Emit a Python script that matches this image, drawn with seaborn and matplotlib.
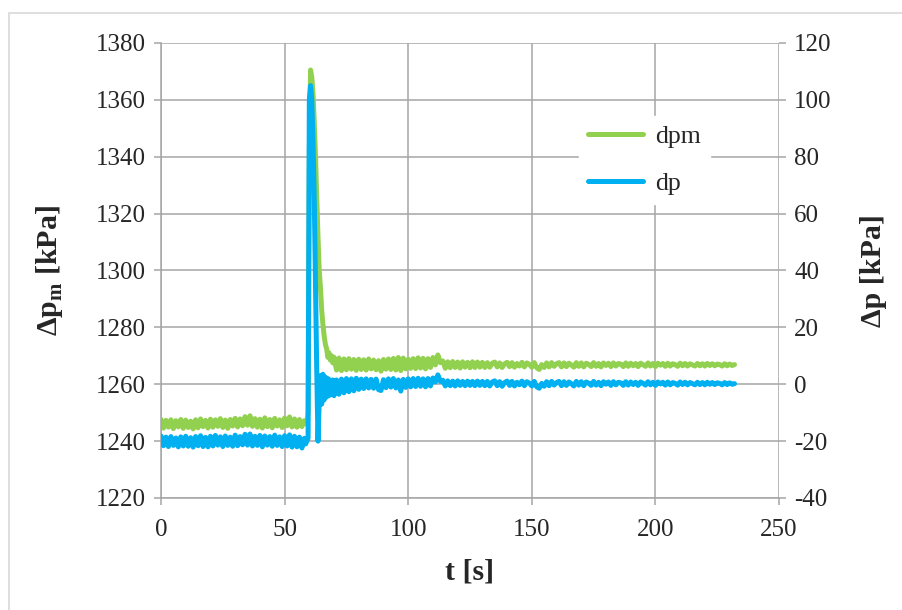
import numpy as np
import pandas as pd
import seaborn as sns
import matplotlib.pyplot as plt
from matplotlib.patches import Rectangle

# time grid of the samples [s]
t_pre = np.arange(0, 59, 1.0)          # before the pressure step
t_jump = np.arange(58.5, 70, 0.5)      # step and decay
t_post1 = np.arange(70, 132, 1.0)
t_post2 = np.arange(132, 233, 1.0)

# dpm, left axis [kPa]
dpm_pre = [1247.6, 1244.6, 1247.3, 1244.9, 1247.5, 1244.4, 1247.2, 1245.0, 1247.6, 1244.5,
           1247.4, 1244.8, 1247.0, 1244.3, 1247.5, 1244.7, 1247.8, 1245.1, 1247.3, 1244.6,
           1247.7, 1244.9, 1247.5, 1245.2, 1247.9, 1244.8, 1247.4, 1244.5, 1247.6, 1245.3,
           1248.0, 1245.0, 1247.8, 1245.4, 1248.6, 1245.6, 1248.9, 1245.2, 1247.9, 1244.9,
           1247.7, 1244.6, 1248.2, 1245.1, 1247.6, 1244.7, 1248.0, 1245.3, 1247.5, 1244.8,
           1248.1, 1245.4, 1248.5, 1245.0, 1247.8, 1244.9, 1247.6, 1245.1, 1247.2]
dpm_jump = [1246.5, 1246.0, 1250.0, 1340.0, 1370.5, 1368.0, 1362.0, 1352.0, 1340.0, 1326.0,
            1312.0, 1300.0, 1294.0, 1286.0, 1281.0, 1277.0, 1274.0, 1272.5, 1269.5, 1271.0,
            1268.5, 1270.0, 1267.5]
dpm_post1 = [1269.5, 1265.0, 1269.2, 1264.8, 1268.9, 1265.1, 1269.0, 1265.3, 1268.7, 1264.9,
             1268.8, 1265.2, 1268.6, 1265.0, 1268.9, 1265.4, 1268.5, 1265.1, 1268.3, 1264.6,
             1268.7, 1265.3, 1268.9, 1265.2, 1269.1, 1265.0, 1269.4, 1264.8, 1269.2, 1265.4,
             1268.8, 1265.6, 1269.0, 1265.5, 1269.3, 1265.7, 1269.1, 1265.4, 1269.0, 1265.9,
             1269.4, 1266.8, 1270.3, 1267.6, 1268.2, 1265.6, 1267.9, 1265.8, 1268.0, 1265.9,
             1267.8, 1265.7, 1267.9, 1266.0, 1267.7, 1265.8, 1267.9, 1265.9, 1267.8, 1266.0,
             1267.7, 1265.9]
dpm_post2 = [1267.6, 1266.0, 1267.4, 1267.8, 1266.1, 1267.5, 1265.9, 1267.2, 1267.7, 1266.2,
             1267.6, 1266.0, 1267.3, 1266.4, 1267.7, 1266.1, 1267.5, 1267.0, 1266.0, 1267.6,
             1265.8, 1265.2, 1266.9, 1265.9, 1267.5, 1266.1, 1267.6, 1266.3, 1267.2, 1267.6,
             1266.1, 1267.5, 1266.2, 1267.4, 1266.8, 1266.0, 1267.6, 1266.3, 1267.5, 1266.1,
             1267.4, 1267.0, 1266.2, 1267.6, 1266.3, 1267.3, 1266.1, 1267.5, 1266.6, 1267.4,
             1266.2, 1267.5, 1266.4, 1267.3, 1267.1, 1266.2, 1267.5, 1266.3, 1267.4, 1266.5,
             1267.3, 1266.2, 1267.4, 1266.9, 1266.3, 1267.5, 1266.4, 1267.3, 1266.2, 1267.4,
             1266.7, 1267.3, 1266.3, 1267.4, 1266.4, 1267.2, 1266.9, 1266.3, 1267.4, 1266.5,
             1267.3, 1266.4, 1267.2, 1266.8, 1266.4, 1267.3, 1266.5, 1267.2, 1266.4, 1267.3,
             1266.6, 1267.2, 1266.5, 1267.1, 1266.9, 1266.4, 1267.2, 1266.5, 1267.1, 1266.6,
             1266.9]

# dp, right axis [kPa]
dp_pre = [-18.2, -21.6, -18.6, -21.9, -18.4, -21.5, -18.9, -22.0, -18.5, -21.7,
          -18.3, -21.8, -18.8, -22.1, -18.4, -21.6, -18.1, -21.9, -18.7, -22.0,
          -18.3, -21.7, -18.0, -21.4, -18.5, -21.9, -18.2, -21.5, -18.6, -21.8,
          -17.9, -21.6, -18.4, -21.3, -17.6, -21.4, -17.5, -21.7, -18.3, -21.5,
          -18.0, -22.0, -18.2, -21.4, -18.4, -21.8, -17.9, -21.5, -18.5, -21.9,
          -18.1, -21.7, -17.8, -22.1, -18.3, -22.0, -18.6, -22.4, -19.0]
dp_jump = [-21.0, -20.0, -19.0, 100.0, 105.0, 100.0, 85.0, 65.0, 35.0, 5.0,
           -20.0, -6.0, 3.0, -7.0, 3.5, -5.5, 2.5, -4.5, 2.0, -4.0,
           1.5, -3.5, 1.5]
dp_post1 = [-4.0, 1.5, -3.5, 1.8, -3.0, 2.0, -2.6, 1.9, -2.3, 2.1,
            -1.8, 1.8, -1.5, 1.9, -1.3, 1.7, -1.4, 1.8, -1.9, -2.2,
            1.6, -1.2, 1.9, -1.0, 2.0, -1.3, 1.5, -2.4, 1.7, -1.1,
            1.9, -0.9, 2.0, -0.8, 2.1, -0.7, 1.9, -0.9, 2.0, -0.6,
            2.2, 0.8, 3.3, 1.0, 1.4, -0.6, 1.2, -0.5, 1.1, -0.6,
            1.2, -0.4, 1.0, -0.5, 1.1, -0.4, 1.0, -0.5, 1.1, -0.4,
            1.0, -0.5]
dp_post2 = [1.0, -0.6, 0.8, 1.2, -0.5, 0.9, -0.7, 0.6, 1.1, -0.4,
            1.0, -0.6, 0.7, -0.2, 1.1, -0.5, 0.9, 0.4, -0.6, 1.0,
            -0.9, -1.4, 0.3, -0.7, 0.9, -0.5, 1.0, -0.3, 0.6, 1.0,
            -0.5, 0.9, -0.4, 0.8, 0.2, -0.6, 1.0, -0.3, 0.9, -0.5,
            0.8, 0.4, -0.4, 1.0, -0.3, 0.7, -0.5, 0.9, 0.0, 0.8,
            -0.4, 0.9, -0.2, 0.7, 0.5, -0.4, 0.9, -0.3, 0.8, -0.1,
            0.7, -0.4, 0.8, 0.3, -0.3, 0.9, -0.2, 0.7, -0.4, 0.8,
            0.1, 0.7, -0.3, 0.8, -0.2, 0.6, 0.3, -0.3, 0.8, -0.1,
            0.7, -0.2, 0.6, 0.2, -0.2, 0.7, -0.1, 0.6, -0.2, 0.7,
            0.0, 0.6, -0.1, 0.5, 0.3, -0.2, 0.6, -0.1, 0.5, 0.0,
            0.2]

df = pd.DataFrame({
    't': np.concatenate([t_pre, t_jump, t_post1, t_post2]),
    'dpm': dpm_pre + dpm_jump + dpm_post1 + dpm_post2,
    'dp': dp_pre + dp_jump + dp_post1 + dp_post2,
})

sns.set_style('white')
plt.rcParams['font.family'] = ['Liberation Serif', 'DejaVu Serif']
plt.rcParams['mathtext.fontset'] = 'custom'
plt.rcParams['mathtext.rm'] = 'Liberation Serif'
plt.rcParams['mathtext.bf'] = 'Liberation Serif:bold'
plt.rcParams['axes.unicode_minus'] = False

green = '#92D050'
blue = '#00B0F0'
grid = '#a6a6a6'

fig = plt.figure(figsize=(9.02, 6.10), dpi=100)
ax = fig.add_axes([161 / 902, 1 - 498 / 610, 618 / 902, 455 / 610])
ax2 = ax.twinx()

sns.lineplot(data=df, x='t', y='dpm', ax=ax, color=green, lw=3.6,
             estimator=None, sort=False, label='dpm', legend=False,
             solid_capstyle='round', solid_joinstyle='round')
sns.lineplot(data=df, x='t', y='dp', ax=ax2, color=blue, lw=3.6,
             estimator=None, sort=False, label='dp', legend=False,
             solid_capstyle='round', solid_joinstyle='round')

ax.set_xlim(0, 250)
ax.set_ylim(1220, 1380)
ax2.set_ylim(-40, 120)
ax.set_xticks(range(0, 251, 50))
ax.set_yticks(range(1220, 1381, 20))
ax2.set_yticks(range(-40, 121, 20))

ax.grid(True, color=grid, lw=1.1)
ax.set_axisbelow(True)
for a in (ax, ax2):
    for s in a.spines.values():
        s.set_visible(False)
for side in ('left', 'bottom'):
    ax.spines[side].set_visible(True)
    ax.spines[side].set_color(grid)
    ax.spines[side].set_linewidth(1.1)

ax.tick_params(axis='x', labelsize=18, length=5, width=1.1, color=grid,
               direction='out', pad=10, bottom=True)
ax.tick_params(axis='y', labelsize=18, length=5, width=1.1, color=grid,
               direction='out', pad=6, left=True)
ax2.tick_params(axis='y', labelsize=18, length=5, width=1.1, color=grid,
                direction='out', pad=6, right=True)

ax.set_xlabel('t [s]', fontsize=21.5, fontweight='bold', labelpad=13)
ax.set_ylabel(r'Δp$_\mathbf{m}$ [kPa]', fontsize=21.5, fontweight='bold', labelpad=22)
ax2.set_ylabel('Δp [kPa]', fontsize=21.5, fontweight='bold', labelpad=20)

h1, l1 = ax.get_legend_handles_labels()
h2, l2 = ax2.get_legend_handles_labels()
leg = ax2.legend(h1 + h2, l1 + l2, loc='upper left',
                 bbox_to_anchor=(579 / 902, 1 - 116 / 610),
                 bbox_transform=fig.transFigure, borderaxespad=0,
                 frameon=True, fontsize=18.5, handlelength=2.15,
                 handletextpad=0.45, labelspacing=0.95, borderpad=0.35,
                 fancybox=False)
leg.get_frame().set_facecolor('white')
leg.get_frame().set_edgecolor('white')
leg.get_frame().set_alpha(1)

fig.patches.append(Rectangle((9 / 902, -0.1), 1.2, 1 - 13 / 610 + 0.1,
                             transform=fig.transFigure, fill=False,
                             edgecolor='#d9d9d9', lw=1.2))

fig.savefig('out.png', dpi=100, facecolor='white')
